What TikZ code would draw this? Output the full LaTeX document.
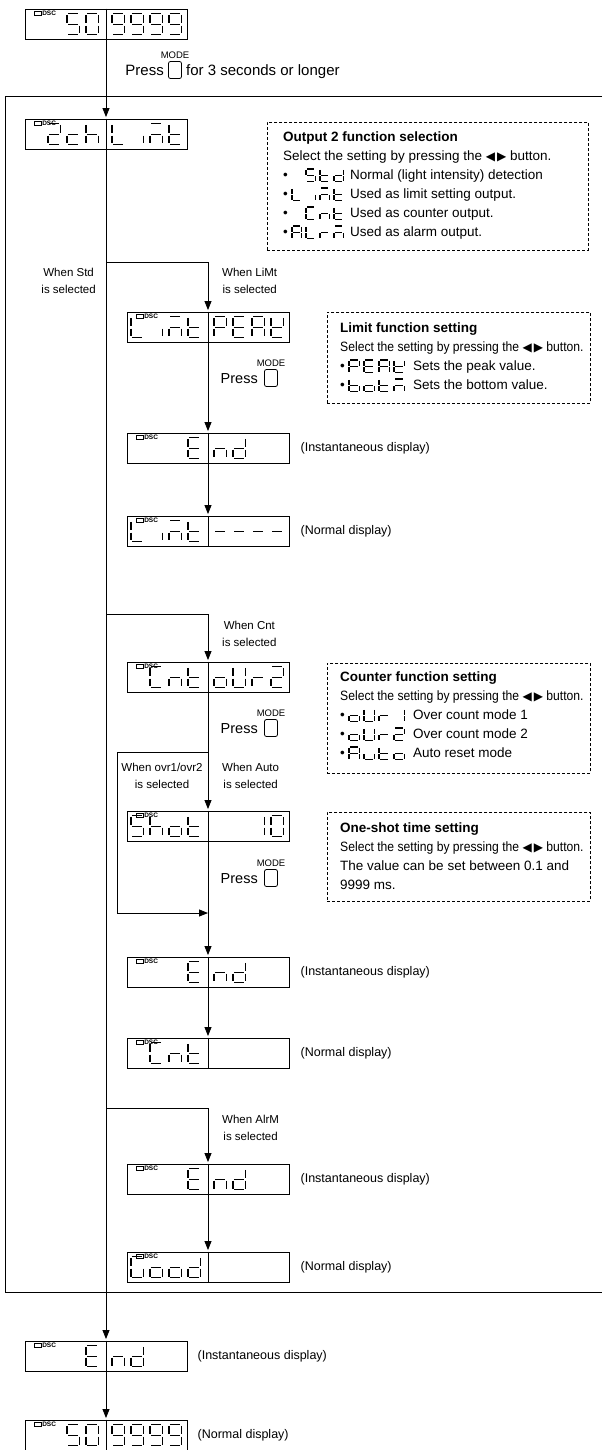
\documentclass[tikz,border=0pt]{standalone}
\usepackage{fontspec}
\setmainfont{Liberation Sans}
\newfontfamily\symfont{DejaVu Sans}
\newfontfamily\narrowfont[FakeStretch=0.9]{Liberation Sans}
\usetikzlibrary{arrows.meta, positioning, calc}

% seven-segment characters: which of the segments a..g are lit
\newcommand\lcddef[2]{\expandafter\def\csname lcd-#1\endcsname{#2}}
\lcddef{x}{z}
\lcddef{0}{a,b,c,d,e,f}
\lcddef{1}{b,c}
\lcddef{2}{a,b,d,e,g}
\lcddef{5}{a,c,d,f,g}
\lcddef{9}{a,b,c,d,f,g}
\lcddef{-}{g}
\lcddef{A}{a,b,c,e,f,g}
\lcddef{b}{c,d,e,f,g}
\lcddef{c}{d,e,g}
\lcddef{C}{a,d,e,f}
\lcddef{d}{b,c,d,e,g}
\lcddef{E}{a,d,e,f,g}
\lcddef{G}{a,c,d,e,f}
\lcddef{h}{c,e,f,g}
\lcddef{i}{c}
\lcddef{K}{b,d,e,f,g}
\lcddef{L}{d,e,f}
\lcddef{M}{a,c,e,g}
\lcddef{n}{c,e,g}
\lcddef{o}{c,d,e,g}
\lcddef{P}{a,b,e,f,g}
\lcddef{r}{e,g}
\lcddef{S}{a,c,d,f,g}
\lcddef{t}{d,e,f,g}
\lcddef{u}{c,d,e}
\lcddef{U}{b,c,d,e,f}

\newcommand\lcdseg[1]{%
  \if a#1\draw[seg] (1.2,0) -- (9.8,0);\fi
  \if b#1\draw[seg] (11,1.2) -- (11,8.3);\fi
  \if c#1\draw[seg] (11,10.7) -- (11,17.8);\fi
  \if d#1\draw[seg] (1.2,19) -- (9.8,19);\fi
  \if e#1\draw[seg] (0,10.7) -- (0,17.8);\fi
  \if f#1\draw[seg] (0,1.2) -- (0,8.3);\fi
  \if g#1\draw[seg] (1.2,9.5) -- (9.8,9.5);\fi}

% #1 first cell, #2 pitch, #3 extra scope options, #4 characters
\newcommand\lcd[4]{%
  \edef\lcdchars{#4}%
  \foreach \lcdc [count=\lcdk from 0] in \lcdchars {%
    \edef\lcdlist{\csname lcd-\lcdc\endcsname}%
    \begin{scope}[shift={#1}, shift={(\lcdk*#2,0)}, #3]
      \foreach \sg in \lcdlist {\lcdseg{\sg}}
    \end{scope}}}

\begin{document}
\begin{tikzpicture}[
  x=1pt, y=-1pt,
  font=\fontsize{12.5}{16.5}\selectfont,
  wire/.style={line width=0.9pt},
  arr/.style={wire, -{Triangle[length=9pt, width=7pt]}, shorten >=1.5pt},
  seg/.style={line width=1.1pt},
  big/.style={xscale=1.15, yscale=1.12},
  mid/.style={xscale=0.85, yscale=0.68},
  wide/.style={xscale=0.95, yscale=0.68},
  lcdbox/.style={draw, line width=0.9pt, minimum width=162pt, minimum height=30pt, inner sep=0pt},
  dsc/.style={anchor=west, inner sep=0pt, font=\bfseries\fontsize{6.5}{7}\selectfont},
  lbl/.style={align=center, inner sep=0pt, font=\fontsize{11.5}{16.5}\selectfont},
  note/.style={inner sep=0pt},
  infobox/.style={draw, dash pattern=on 3pt off 2pt, line width=0.7pt, anchor=north west, inner sep=0pt},
  ttl/.style={anchor=west, inner sep=0pt, text height=9.5pt, text depth=2.5pt, font=\bfseries\fontsize{13.5}{16}\selectfont},
  txt/.style={anchor=west, inner sep=0pt, text height=9.5pt, text depth=2.5pt, font=\fontsize{13.5}{16}\selectfont},
  narrow/.style={font=\narrowfont\fontsize{13.5}{16}\selectfont},
  press/.style={anchor=base east, inner sep=0pt, font=\fontsize{14.5}{16}\selectfont},
  btn/.style={draw, rounded corners=2pt, line width=0.8pt, minimum width=13pt, minimum height=17pt, inner sep=0pt},
  mode/.style={inner sep=0pt, font=\fontsize{9.5}{10}\selectfont}
]
  \useasboundingbox (0,0) rectangle (602,1450);

  % setting frame
  \draw[wire] (602,96) -- (5,96) -- (5,1292) -- (602,1292);

  % displays
  \foreach \n/\x/\y in {d0/106/24, d1/106/134, d2/208/327, e2/208/448, d3/208/531,
      d4/208/677, d5/208/826, e3/208/972, d6/208/1053, e4/208/1179, d7/208/1267,
      e5/106/1356, d8/106/1435}{
    \node[lcdbox] (\n) at (\x,\y) {};
    \draw[wire] (\n.north) -- (\n.south);
    \draw[line width=0.5pt] ($(\n.north west)+(10,3)$) rectangle ++(7,3.5);
    \node[dsc] (\n-dsc) at ($(\n.north west)+(17.5,5)$) {DSC};
  }

  \lcd{($(d0.north)+(-77,5)$)}{19}{big}{x,x,5,0}
  \lcd{($(d0.north)+(6,5)$)}{19}{big}{9,9,9,9}
  \lcd{($(d1.north)+(-77,5)$)}{19}{big}{x,2,c,h}
  \lcd{($(d1.north)+(6,5)$)}{19}{big}{L,i,M,t}
  \lcd{($(d2.north)+(-77,5)$)}{19}{big}{L,i,M,t}
  \lcd{($(d2.north)+(6,5)$)}{19}{big}{P,E,A,K}
  \lcd{($(e2.north)+(-77,5)$)}{19}{big}{x,x,x,E}
  \lcd{($(e2.north)+(6,5)$)}{19}{big}{n,d}
  \lcd{($(d3.north)+(-77,5)$)}{19}{big}{L,i,M,t}
  \lcd{($(d3.north)+(6,5)$)}{19}{big}{-,-,-,-}
  \lcd{($(d4.north)+(-77,5)$)}{19}{big}{x,C,n,t}
  \lcd{($(d4.north)+(6,5)$)}{19}{big}{o,U,r,2}
  \lcd{($(d5.north)+(-77,5)$)}{19}{big}{S,h,o,t}
  \lcd{($(d5.north)+(6,5)$)}{19}{big}{x,x,1,0}
  \lcd{($(e3.north)+(-77,5)$)}{19}{big}{x,x,x,E}
  \lcd{($(e3.north)+(6,5)$)}{19}{big}{n,d}
  \lcd{($(d6.north)+(-77,5)$)}{19}{big}{x,C,n,t}
  \lcd{($(e4.north)+(-77,5)$)}{19}{big}{x,x,x,E}
  \lcd{($(e4.north)+(6,5)$)}{19}{big}{n,d}
  \lcd{($(d7.north)+(-77,5)$)}{19}{big}{G,o,o,d}
  \lcd{($(e5.north)+(-77,5)$)}{19}{big}{x,x,x,E}
  \lcd{($(e5.north)+(6,5)$)}{19}{big}{n,d}
  \lcd{($(d8.north)+(-77,5)$)}{19}{big}{x,x,5,0}
  \lcd{($(d8.north)+(6,5)$)}{19}{big}{9,9,9,9}

  % MODE key at the top
  \node[btn] (p0-btn) at (175,70) {};
  \node[mode, above=2pt of p0-btn] (p0-mode) {MODE};
  \node[press, font=\fontsize{15}{16}\selectfont] (p0) at (164,75.5) {Press};
  \node[press, anchor=base west, font=\fontsize{15}{16}\selectfont] (p0-txt) at (186,75.5) {for 3 seconds or longer};

  % flow
  \coordinate (b1) at (106,262);
  \coordinate (b2) at (106,614);
  \coordinate (b4) at (106,1108);
  \coordinate (b3) at (208,752);
  \coordinate (k1) at (117,752);
  \coordinate (m1) at (208,913);
  \draw[arr] (d0) -- (d1);
  \draw[arr] (d1) -- (e5);
  \draw[arr] (b1) -| (d2);
  \draw[arr] (d2) -- (e2);
  \draw[arr] (e2) -- (d3);
  \draw[arr] (b2) -| (d4);
  \draw[arr] (d4) -- (d5);
  \draw[arr, shorten >=0pt] (b3) -- (k1) |- (m1);
  \draw[arr] (d5) -- (e3);
  \draw[arr] (e3) -- (d6);
  \draw[arr] (b4) -| (e4);
  \draw[arr] (e4) -- (d7);
  \draw[arr] (e5) -- (d8);

  \node[lbl, anchor=east] (w-std) at (96,281) {When Std\\is selected};
  \node[lbl, anchor=west] (w-lim) at (222,281) {When LiMt\\is selected};
  \node[lbl, anchor=west] (w-cnt) at (222,634) {When Cnt\\is selected};
  \node[lbl] (w-ovr) at (162,776) {When ovr1/ovr2\\is selected};
  \node[lbl, anchor=west] (w-auto) at (222,776) {When Auto\\is selected};
  \node[lbl, anchor=west] (w-alm) at (222,1128) {When AlrM\\is selected};

  % MODE keys in the column
  \foreach \p/\y in {p1/378, p2/728, p3/878}{
    \node[btn] (\p-btn) at (271,\y) {};
    \node[mode, above=2pt of \p-btn] (\p-mode) {MODE};
    \node[press] (\p) at (258,\y+5) {Press};
  }

  \node[note, right=11pt of e2] (e2-note) {(Instantaneous display)};
  \node[note, right=11pt of d3] (d3-note) {(Normal display)};
  \node[note, right=11pt of e3] (e3-note) {(Instantaneous display)};
  \node[note, right=11pt of d6] (d6-note) {(Normal display)};
  \node[note, right=11pt of e4] (e4-note) {(Instantaneous display)};
  \node[note, right=11pt of d7] (d7-note) {(Normal display)};
  \node[note, right=10pt of e5] (e5-note) {(Instantaneous display)};
  \node[note, right=10pt of d8] (d8-note) {(Normal display)};

  % output 2 function selection
  \node[infobox, minimum width=321pt, minimum height=128pt] (fbox) at (267,122) {};
  \node[ttl] (fbox-ttl) at (283,138) {Output 2 function selection};
  \node[txt] (fbox-sel) at (283,157) {Select the setting by pressing the {\symfont\fontsize{12}{14}\selectfont ◀\,▶} button.};
  \node[txt] (fbox-b1) at (283,176) {•};
  \lcd{(292,169)}{14}{mid}{x,S,t,d}
  \node[txt] (fbox-t1) at (350,176) {Normal (light intensity) detection};
  \node[txt] (fbox-b2) at (283,195) {•};
  \lcd{(292,188)}{14}{mid}{L,i,M,t}
  \node[txt] (fbox-t2) at (350,195) {Used as limit setting output.};
  \node[txt] (fbox-b3) at (283,214) {•};
  \lcd{(292,207)}{14}{mid}{x,C,n,t}
  \node[txt] (fbox-t3) at (350,214) {Used as counter output.};
  \node[txt] (fbox-b4) at (283,233) {•};
  \lcd{(292,226)}{14}{mid}{A,L,r,M}
  \node[txt] (fbox-t4) at (350,233) {Used as alarm output.};

  % limit function setting
  \node[infobox, minimum width=263pt, minimum height=91pt] (lbox) at (327,312) {};
  \node[ttl] (lbox-ttl) at (340,329) {Limit function setting};
  \node[txt, narrow] (lbox-sel) at (340,348) {Select the setting by pressing the {\symfont\fontsize{12}{14}\selectfont ◀\,▶} button.};
  \node[txt] (lbox-b1) at (340,367) {•};
  \lcd{(349,360)}{15}{wide}{P,E,A,K}
  \node[txt] (lbox-t1) at (413,367) {Sets the peak value.};
  \node[txt] (lbox-b2) at (340,386) {•};
  \lcd{(349,379)}{15}{wide}{b,o,t,M}
  \node[txt] (lbox-t2) at (413,386) {Sets the bottom value.};

  % counter function setting
  \node[infobox, minimum width=263pt, minimum height=110pt] (cbox) at (327,663) {};
  \node[ttl] (cbox-ttl) at (340,678) {Counter function setting};
  \node[txt, narrow] (cbox-sel) at (340,697) {Select the setting by pressing the {\symfont\fontsize{12}{14}\selectfont ◀\,▶} button.};
  \node[txt] (cbox-b1) at (340,716) {•};
  \lcd{(349,709)}{15}{wide}{o,U,r,1}
  \node[txt] (cbox-t1) at (413,716) {Over count mode 1};
  \node[txt] (cbox-b2) at (340,735) {•};
  \lcd{(349,728)}{15}{wide}{o,U,r,2}
  \node[txt] (cbox-t2) at (413,735) {Over count mode 2};
  \node[txt] (cbox-b3) at (340,754) {•};
  \lcd{(349,747)}{15}{wide}{A,u,t,o}
  \node[txt] (cbox-t3) at (413,754) {Auto reset mode};

  % one-shot time setting
  \node[infobox, minimum width=263pt, minimum height=89pt] (obox) at (327,812) {};
  \node[ttl] (obox-ttl) at (340,829) {One-shot time setting};
  \node[txt, narrow] (obox-sel) at (340,848) {Select the setting by pressing the {\symfont\fontsize{12}{14}\selectfont ◀\,▶} button.};
  \node[txt] (obox-t1) at (340,867) {The value can be set between 0.1 and};
  \node[txt] (obox-t2) at (340,886) {9999 ms.};
\end{tikzpicture}
\end{document}
